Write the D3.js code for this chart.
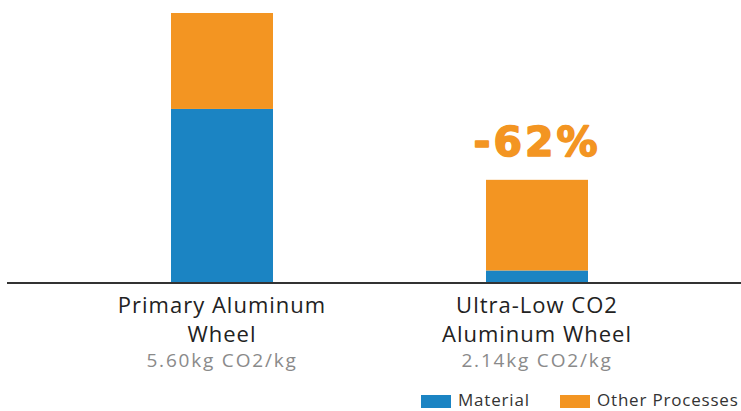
<!DOCTYPE html>
<html>
<head>
<meta charset="utf-8">
<script src="https://cdn.jsdelivr.net/npm/d3@7"></script>
<style>
  body { margin: 0; background: #fff; }
  text { font-family: "Open Sans", "Noto Sans", sans-serif; }
</style>
</head>
<body>
<script>
var categories = ["Primary Aluminum Wheel", "Ultra-Low CO2 Aluminum Wheel"];
var labelLines = [["Primary Aluminum", "Wheel"], ["Ultra-Low CO2", "Aluminum Wheel"]];
var totalLabels = ["5.60kg CO2/kg", "2.14kg CO2/kg"];
var seriesNames = ["Material", "Other Processes"];
var material = [3.61, 0.26];
var otherProcesses = [1.99, 1.88];
var colors = ["#1b84c3", "#f39522"];
var reductionLabel = "-62%";

var width = 741, height = 411;
var baseY = 283, barW = 102;

var svg = d3.select("body").append("svg")
  .attr("width", width).attr("height", height);

var rows = categories.map(function(c, i) {
  return { cat: c, "Material": material[i], "Other Processes": otherProcesses[i] };
});

var x = d3.scalePoint().domain(categories).range([222, 537]);
var y = d3.scaleLinear().domain([0, 5.6]).range([baseY, 13]);

var stacked = d3.stack().keys(seriesNames)(rows);

svg.selectAll("g.series")
  .data(stacked)
  .enter().append("g")
  .attr("class", "series")
  .attr("fill", function(d, i) { return colors[i]; })
  .selectAll("rect")
  .data(function(d) { return d; })
  .enter().append("rect")
  .attr("x", function(d) { return x(d.data.cat) - barW / 2; })
  .attr("width", barW)
  .attr("y", function(d) { return y(d[1]); })
  .attr("height", function(d) { return y(d[0]) - y(d[1]); });

// baseline
svg.append("line")
  .attr("x1", 7).attr("x2", width)
  .attr("y1", baseY).attr("y2", baseY)
  .attr("stroke", "#333").attr("stroke-width", 2);

// category labels
categories.forEach(function(c, i) {
  var g = svg.append("g").attr("text-anchor", "middle");
  g.append("text").attr("x", x(c)).attr("y", 313)
    .attr("font-size", 22).attr("letter-spacing", 1).attr("fill", "#222").text(labelLines[i][0]);
  g.append("text").attr("x", x(c)).attr("y", 342)
    .attr("font-size", 22).attr("letter-spacing", 1).attr("fill", "#222").text(labelLines[i][1]);
  g.append("text").attr("x", x(c)).attr("y", 367)
    .attr("font-size", 19).attr("letter-spacing", 1.8).attr("fill", "#8a8a8a").text(totalLabels[i]);
});

// reduction label, stroked a little to get the heavy look
svg.append("text")
  .attr("x", x(categories[1]))
  .attr("y", y(material[1] + otherProcesses[1]) - 24)
  .attr("text-anchor", "middle")
  .style("font-family", "'DejaVu Sans', sans-serif")
  .attr("font-size", 41).attr("font-weight", "bold")
  .attr("letter-spacing", 3)
  .attr("fill", colors[1])
  .attr("stroke", colors[1]).attr("stroke-width", 1.6)
  .attr("stroke-linejoin", "round")
  .text(reductionLabel);

// legend
var legendX = [421, 560];
seriesNames.forEach(function(s, i) {
  svg.append("rect")
    .attr("x", legendX[i]).attr("y", 395)
    .attr("width", 30).attr("height", 13)
    .attr("fill", colors[i]);
  svg.append("text")
    .attr("x", legendX[i] + 37).attr("y", 406)
    .attr("font-size", 17).attr("letter-spacing", 0.8).attr("fill", "#333")
    .text(s);
});
</script>
</body>
</html>
